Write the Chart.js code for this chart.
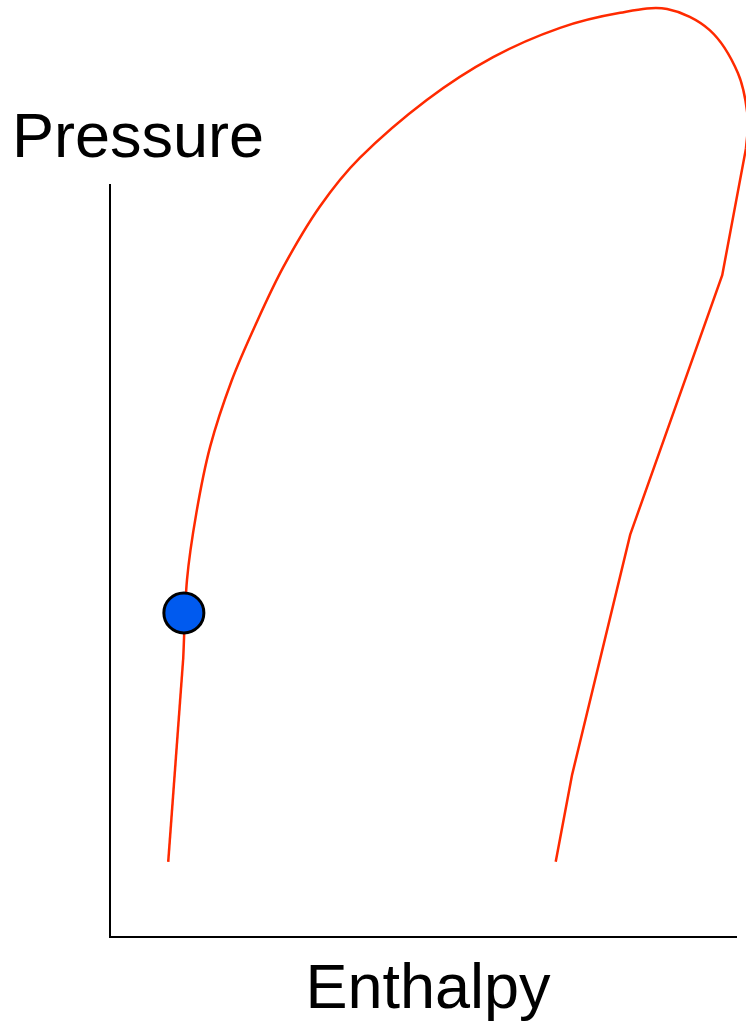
<!DOCTYPE html>
<html>
<head>
<meta charset="utf-8">
<script src="https://cdn.jsdelivr.net/npm/chart.js@4.4.1/dist/chart.umd.min.js"></script>
<style>
    html, body { margin: 0; padding: 0; background: #fff; overflow: hidden; }
    #wrap { position: relative; width: 746px; height: 1025px; }
</style>
</head>
<body>
<div id="wrap"><canvas id="phChart"></canvas></div>
<script>
// axis titles
const xTitle = "Enthalpy";
const yTitle = "Pressure";

// saturated liquid line, lower straight part
const liquidLowH = [9.3, 11.7];
const liquidLowP = [10.0, 37.1];

// dome: saturated liquid up over the critical point (smooth)
const domeH = [11.7, 12.3, 13.8, 16.0, 19.4, 23.3, 27.7, 33.5, 39.9, 50.6, 61.2, 71.9, 81.5, 89.0, 95.8, 100.3, 101.9, 101.6];
const domeP = [37.1, 47.5, 56.4, 65.2, 73.9, 81.5, 89.1, 97.1, 103.6, 111.3, 117.0, 120.9, 122.9, 123.4, 120.6, 114.9, 108.9, 104.9];

// saturated vapour line (straight segments)
const vapourH = [101.6, 97.8, 83.1, 73.8, 71.2];
const vapourP = [104.9, 88.0, 53.5, 21.5, 10.0];

// state point
const pointH = [11.8];
const pointP = [43.1];

const toXY = (xs, ys) => xs.map((x, i) => ({ x: x, y: ys[i] }));

const red = "#ff2a00";

const titlesPlugin = {
    id: "titles",
    afterDraw(chart) {
        const ctx = chart.ctx;
        const area = chart.chartArea;
        ctx.save();
        ctx.fillStyle = "#000";
        ctx.font = "63px 'Liberation Sans', Arial, sans-serif";
        ctx.textBaseline = "alphabetic";
        ctx.textAlign = "left";
        ctx.fillText(yTitle, 12, 157);
        ctx.textAlign = "center";
        ctx.fillText(xTitle, (area.left + area.right) / 2 + 5, 1008);
        ctx.restore();
    },
};

let phCtx = document.getElementById("phChart").getContext("2d");
let phChart = new Chart(phCtx, {
    type: "scatter",
    data: {
        datasets: [
            {
                data: toXY(pointH, pointP),
                backgroundColor: "#005aef",
                borderColor: "#000",
                borderWidth: 3,
                pointRadius: 20,
                order: 0,
                clip: false,
            },
            {
                data: toXY(liquidLowH, liquidLowP),
                showLine: true,
                borderColor: red,
                borderWidth: 2.5,
                pointRadius: 0,
                tension: 0,
                order: 1,
                clip: false,
            },
            {
                data: toXY(domeH, domeP),
                showLine: true,
                borderColor: red,
                borderWidth: 2.5,
                pointRadius: 0,
                tension: 0.33,
                order: 1,
                clip: false,
            },
            {
                data: toXY(vapourH, vapourP),
                showLine: true,
                borderColor: red,
                borderWidth: 2.5,
                pointRadius: 0,
                tension: 0,
                order: 1,
                clip: false,
            },
        ],
    },
    options: {
        maintainAspectRatio: false,
        responsive: true,
        animation: false,
        events: [],
        layout: {
            autoPadding: false,
            padding: { left: 110, top: 185, right: 10, bottom: 88 },
        },
        elements: {
            line: { capBezierPoints: false },
        },
        plugins: {
            legend: { display: false },
            tooltip: { enabled: false },
        },
        scales: {
            x: {
                type: "linear",
                min: 0,
                max: 100,
                grid: { display: false, drawTicks: false },
                ticks: { display: false },
                border: { display: true, color: "#000", width: 2 },
            },
            y: {
                type: "linear",
                min: 0,
                max: 100,
                grid: { display: false, drawTicks: false },
                ticks: { display: false },
                border: { display: true, color: "#000", width: 2 },
            },
        },
    },
    plugins: [titlesPlugin],
});
</script>
</body>
</html>
